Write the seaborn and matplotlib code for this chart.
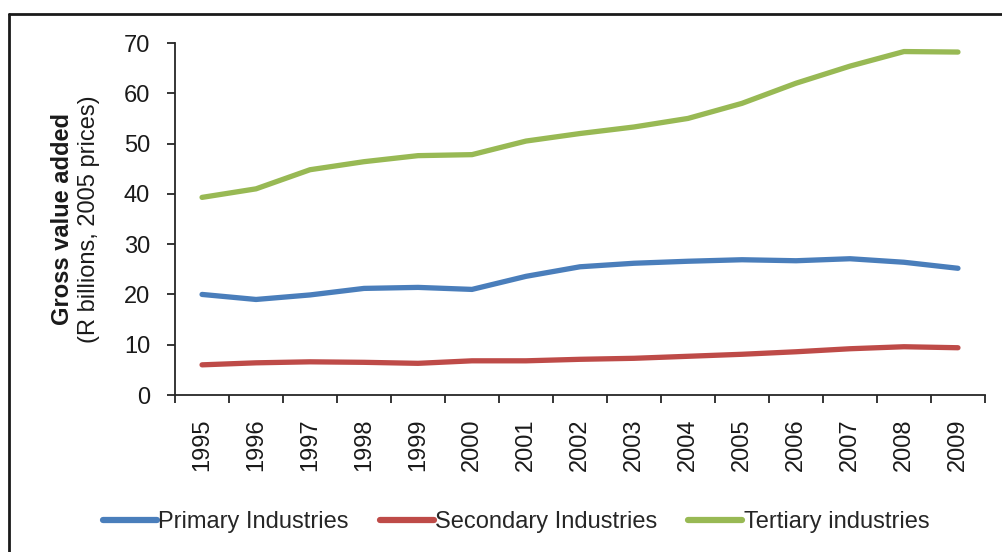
import matplotlib
matplotlib.use("Agg")
import matplotlib.pyplot as plt
import pandas as pd
import seaborn as sns
from matplotlib.lines import Line2D

years = list(range(1995, 2010))
primary = [20.0, 19.0, 19.9, 21.2, 21.4, 21.0, 23.6, 25.5, 26.2, 26.6, 26.9, 26.7, 27.1, 26.4, 25.2]
secondary = [6.0, 6.4, 6.6, 6.5, 6.3, 6.8, 6.8, 7.1, 7.3, 7.7, 8.1, 8.6, 9.2, 9.6, 9.4]
tertiary = [39.3, 41.0, 44.8, 46.4, 47.6, 47.8, 50.5, 52.0, 53.3, 55.0, 58.0, 62.0, 65.4, 68.3, 68.2]
series_names = ["Primary Industries", "Secondary Industries", "Tertiary industries"]
colors = ["#4A7EBB", "#BE4B48", "#98B954"]

df = pd.DataFrame({
    "year": years * 3,
    "value": primary + secondary + tertiary,
    "series": [series_names[0]] * 15 + [series_names[1]] * 15 + [series_names[2]] * 15,
})

sns.set_style("white")
plt.rcParams["font.family"] = ["Liberation Sans", "DejaVu Sans"]

fig = plt.figure(figsize=(10.02, 5.52), dpi=100)
ax = fig.add_axes([0.1747, 0.2844, 0.8083, 0.6377])

sns.lineplot(data=df, x="year", y="value", hue="series", palette=colors,
             linewidth=3.8, ax=ax, legend=True, solid_capstyle="round")

ax.set_xlim(1994.5, 2009.5)
ax.set_ylim(0, 70)
ax.set_yticks(range(0, 71, 10))
ax.set_xticks([y - 0.5 for y in years] + [2009.5])
ax.set_xticklabels([])
ax.set_xticks(years, minor=True)
ax.set_xticklabels([str(y) for y in years], minor=True, rotation=90)
ax.tick_params(axis="x", which="minor", length=0, pad=17, labelsize=17, labelcolor="#1a1a1a")
ax.tick_params(axis="x", which="major", length=6, width=1.3, color="#262626", direction="out")
ax.tick_params(axis="y", length=6, width=1.3, color="#262626", direction="out", pad=12,
               labelsize=17, labelcolor="#1a1a1a")
ax.tick_params(bottom=True, left=True, which="both")
for s in ["top", "right"]:
    ax.spines[s].set_visible(False)
for s in ["left", "bottom"]:
    ax.spines[s].set_color("#262626")
    ax.spines[s].set_linewidth(1.3)
ax.set_xlabel("")
ax.set_ylabel("")

fig.text(0.062, 0.603, "Gross value added", rotation=90, ha="center", va="center",
         fontsize=17, fontweight="bold", color="#1a1a1a")
fig.text(0.089, 0.603, "(R billions, 2005 prices)", rotation=90, ha="center", va="center",
         fontsize=17, color="#1a1a1a")

handles, labels = ax.get_legend_handles_labels()
ax.legend(handles, labels, loc="center", bbox_to_anchor=(0.515, 0.054),
          bbox_transform=fig.transFigure, ncol=3, frameon=False, fontsize=17,
          handlelength=2.3, handletextpad=0.05, columnspacing=1.3)
for h in ax.get_legend().get_lines():
    h.set_linewidth(4.5)

# chart frame (top and left edges visible in the crop)
fig.add_artist(Line2D([0.009, 1.0], [1 - 14 / 552, 1 - 14 / 552], transform=fig.transFigure,
                      color="#1a1a1a", linewidth=2))
fig.add_artist(Line2D([0.009, 0.009], [0.0, 1 - 14 / 552], transform=fig.transFigure,
                      color="#1a1a1a", linewidth=2))

fig.savefig("out.png", dpi=100)
